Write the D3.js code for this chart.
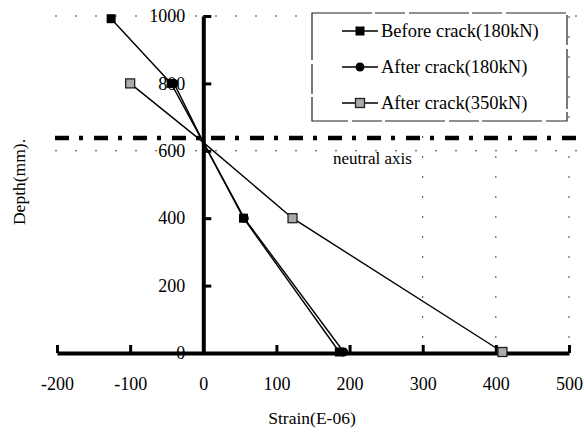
<!DOCTYPE html>
<html><head><meta charset="utf-8">
<script src="https://cdn.jsdelivr.net/npm/d3@7"></script>
<style>body{margin:0;background:#fff}svg{display:block}text{font-family:"Liberation Serif","Times New Roman",serif;fill:#000}</style>
</head><body>
<script>
const seriesNames = ["Before crack(180kN)", "After crack(180kN)", "After crack(350kN)"];
const beforeStrain180 = [-126, -44, 0, 55, 186];
const beforeDepth180 = [992, 800, 625, 400, 3];
const afterStrain180 = [-40, 0, 56, 192];
const afterDepth180 = [800, 625, 400, 3];
const afterStrain350 = [-100, 0, 122, 409];
const afterDepth350 = [800, 625, 400, 3];
const xTicks = [-200, -100, 0, 100, 200, 300, 400, 500];
const yTicks = [0, 200, 400, 600, 800, 1000];
const neutralAxisDepth = 638;

const W = 584, H = 432;
const svg = d3.select("body").append("svg").attr("width", W).attr("height", H);
const x = d3.scaleLinear().domain([-200, 500]).range([57, 569]);
const y = d3.scaleLinear().domain([0, 1000]).range([353, 16]);

// sparse dotted grid
const g = svg.append("g").attr("stroke", "#444").attr("stroke-width", 1).attr("stroke-dasharray", "2,18");
[1000, 600].forEach(v => g.append("line").attr("x1", 55).attr("x2", 580).attr("y1", y(v)).attr("y2", y(v)));
[300, 400, 500].forEach(v => g.append("line").attr("x1", x(v)).attr("x2", x(v)).attr("y1", y(1000)).attr("y2", y(0)));

// axes
const xAxis = d3.axisBottom(x).tickValues(xTicks).tickSize(0).tickPadding(24).tickFormat(d => String(d));
const xa = svg.append("g").attr("transform", `translate(0,${y(0)})`).call(xAxis);
xa.select(".domain").attr("stroke", "#000").attr("stroke-width", 4);
xa.selectAll("text").attr("font-size", 18);
xa.selectAll(".tick").append("line").attr("y1", 0).attr("y2", -8).attr("stroke", "#000").attr("stroke-width", 3)
  .filter(d => d === 0).remove();

const yAxis = d3.axisLeft(y).tickValues(yTicks).tickSize(0).tickPadding(18).tickFormat(d => String(d));
const ya = svg.append("g").attr("transform", `translate(${x(0)},0)`).call(yAxis);
ya.select(".domain").attr("stroke", "#000").attr("stroke-width", 4);
ya.selectAll("text").attr("font-size", 18);
ya.selectAll(".tick").append("line").attr("x1", 0).attr("x2", 8).attr("stroke", "#000").attr("stroke-width", 3)
  .filter(d => d === 0).remove();

// neutral axis
svg.append("line").attr("x1", 55).attr("x2", 584).attr("y1", y(neutralAxisDepth)).attr("y2", y(neutralAxisDepth))
  .attr("stroke", "#000").attr("stroke-width", 4.5).attr("stroke-dasharray", "14,10,4,11");
svg.append("text").attr("x", 333).attr("y", 164).attr("font-size", 17).text("neutral axis");

// series
const data = [
  {name: seriesNames[0], pts: beforeStrain180.map((s, i) => [s, beforeDepth180[i]]), mk: "sq"},
  {name: seriesNames[1], pts: afterStrain180.map((s, i) => [s, afterDepth180[i]]), mk: "ci"},
  {name: seriesNames[2], pts: afterStrain350.map((s, i) => [s, afterDepth350[i]]), mk: "gs"}
];
const line = d3.line().x(d => x(d[0])).y(d => y(d[1]));
function marker(sel, type, cx, cy) {
  if (type === "sq") sel.append("rect").attr("x", cx - 4.5).attr("y", cy - 4.5).attr("width", 9).attr("height", 9).attr("fill", "#000");
  else if (type === "ci") sel.append("circle").attr("cx", cx).attr("cy", cy).attr("r", 4.5).attr("fill", "#000");
  else sel.append("rect").attr("x", cx - 4.5).attr("y", cy - 4.5).attr("width", 9).attr("height", 9).attr("fill", "#aaa").attr("stroke", "#222").attr("stroke-width", 1.3);
}
data.forEach(s => {
  svg.append("path").datum(s.pts).attr("d", line).attr("fill", "none").attr("stroke", "#000").attr("stroke-width", 1.4);
});
data.forEach(s => {
  const gg = svg.append("g");
  s.pts.filter(p => p[0] !== 0).forEach(p => marker(gg, s.mk, x(p[0]), y(p[1])));
});

// legend
const lg = svg.append("g");
lg.append("rect").attr("x", 312).attr("y", 13).attr("width", 255).attr("height", 108)
  .attr("fill", "#fff").attr("stroke", "#222").attr("stroke-width", 1.2).attr("stroke-dasharray", "60,3,30,4");
data.forEach((s, i) => {
  const ly = 31 + i * 36;
  lg.append("line").attr("x1", 342).attr("x2", 378).attr("y1", ly).attr("y2", ly).attr("stroke", "#000").attr("stroke-width", 1.4);
  marker(lg, s.mk, 360, ly);
  lg.append("text").attr("x", 381).attr("y", ly + 6).attr("font-size", 18.5).text(s.name);
});

// axis titles
svg.append("text").attr("x", 312).attr("y", 424).attr("text-anchor", "middle").attr("font-size", 17.5).text("Strain(E-06)");
svg.append("text").attr("transform", "translate(25,182) rotate(-90)").attr("text-anchor", "middle").attr("font-size", 17.5).text("Depth(mm).");
</script>
</body></html>
